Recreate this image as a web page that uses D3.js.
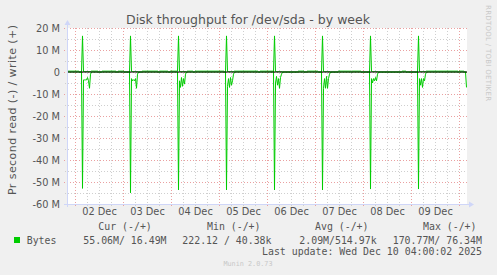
<!DOCTYPE html>
<html>
<head>
<meta charset="utf-8">
<script src="https://cdn.jsdelivr.net/npm/d3@7"></script>
<style>
  html, body { margin: 0; padding: 0; background: #F0F0F0; }
  svg { display: block; }
</style>
</head>
<body>
<div id="chart-area"></div>
<script>
// values in MB/s, read is drawn negative, write positive
var days = ["2025-12-02", "2025-12-03", "2025-12-04", "2025-12-05",
            "2025-12-06", "2025-12-07", "2025-12-08", "2025-12-09"];
var spikeClock = "03:30";
var readPeak  = [52.9, 54.9, 53.6, 53.6, 53.6, 53.6, 53.2, 53.2];
var writePeak = [16.4, 16.4, 16.4, 16.4, 16.4, 16.4, 16.4, 16.4];
// read samples after each spike, 30 min apart
var readTail = [
  [3.6, 3.6, 3.6, 3.6, 2.5, 4.0, 7.4, 1.0],
  [3.0, 4.0, 3.5, 4.0, 3.0, 7.4, 1.0],
  [4.0, 7.0, 2.5, 6.5, 3.0, 5.5, 1.0],
  [6.5, 3.0, 7.0, 2.5, 6.0, 4.0, 1.0],
  [5.0, 2.0, 6.0, 3.0, 7.4, 2.5, 1.0],
  [7.4, 3.0, 7.4, 2.0, 7.4, 3.0, 1.0],
  [3.0, 5.0, 3.0, 4.0, 2.5, 4.0, 1.0],
  [3.0, 6.0, 3.0, 7.0, 3.0, 4.0, 1.0]
];
// hours after the graph start where the small background write shows
var writeIdle = [[0, 5.5], [10.5, 15], [17.5, 24], [25.5, 28], [37.5, 45], [46.5, 50],
                 [51.5, 56.5], [60, 62.5], [64, 70], [70.5, 78], [83, 95], [96.5, 102.5],
                 [115.5, 118], [120, 125], [135.5, 141.5], [142.5, 146.5], [167.5, 169],
                 [176.5, 195], [196, 198]];
var writeIdleLevel = 0.4;
var lastRead = {time: "2025-12-10T03:30:00Z", value: 7.0};

var yTicks = [20, 10, 0, -10, -20, -30, -40, -50, -60];
var legendHead = ["Cur (-/+)", "Min (-/+)", "Avg (-/+)", "Max (-/+)"];
var legendVals = ["55.06M/ 16.49M", "222.12 / 40.38k", "2.09M/514.97k", "170.77M/ 76.34M"];

var width = 497, height = 275;
var plot = {left: 67, top: 28, right: 467, bottom: 204};
var start = new Date(Date.UTC(2025, 11, 1, 20, 0));
var end = new Date(Date.UTC(2025, 11, 10, 4, 0));
var step = 30 * 60 * 1000;

var x = d3.scaleUtc().domain([start, end]).range([plot.left, plot.right]);
var y = d3.scaleLinear().domain([-60, 20]).range([plot.bottom, plot.top]);

// build samples
var n = Math.round((new Date(lastRead.time) - start) / step) + 1;
var samples = [];
for (var i = 0; i < n; i++) {
  var h = i / 2;
  var w = 0;
  writeIdle.forEach(function(r) { if (h >= r[0] && h <= r[1]) w = writeIdleLevel; });
  samples.push({t: new Date(+start + i * step), read: 0, write: w});
}
days.forEach(function(d, k) {
  var s = Math.round((new Date(d + "T" + spikeClock + ":00Z") - start) / step);
  samples[s].read = -readPeak[k];
  samples[s].write = writePeak[k];
  readTail[k].forEach(function(v, j) { samples[s + 1 + j].read = -v; samples[s + 1 + j].write = 0.2; });
});
samples[n - 1].read = -lastRead.value;

var svg = d3.select("#chart-area").append("svg")
    .attr("width", width)
    .attr("height", height);

svg.append("rect").attr("width", width).attr("height", height).attr("fill", "#F0F0F0");
svg.append("rect")
    .attr("x", plot.left).attr("y", plot.top)
    .attr("width", plot.right - plot.left).attr("height", plot.bottom - plot.top)
    .attr("fill", "#FFFFFF");

// grid
var minorV = d3.utcHour.every(6).range(start, end).filter(function(d) { return d.getUTCHours() != 0; });
var majorV = d3.utcDay.range(start, end);
var minorH = [15, 5, -5, -15, -25, -35, -45, -55];

svg.append("g").selectAll("line").data(minorV).enter().append("line")
    .attr("x1", function(d) { return Math.round(x(d)) + 0.5; })
    .attr("x2", function(d) { return Math.round(x(d)) + 0.5; })
    .attr("y1", plot.top).attr("y2", plot.bottom + 2)
    .attr("stroke", "#cfcfcf").attr("stroke-dasharray", "1,2");
svg.append("g").selectAll("line").data(minorH).enter().append("line")
    .attr("x1", plot.left - 2).attr("x2", plot.right)
    .attr("y1", function(d) { return Math.round(y(d)) + 0.5; })
    .attr("y2", function(d) { return Math.round(y(d)) + 0.5; })
    .attr("stroke", "#cfcfcf").attr("stroke-dasharray", "1,2");
svg.append("g").selectAll("line").data(majorV).enter().append("line")
    .attr("x1", function(d) { return Math.round(x(d)) + 0.5; })
    .attr("x2", function(d) { return Math.round(x(d)) + 0.5; })
    .attr("y1", plot.top).attr("y2", plot.bottom + 3)
    .attr("stroke", "#eaa0a0").attr("stroke-dasharray", "1,2");
svg.append("g").selectAll("line").data(yTicks).enter().append("line")
    .attr("x1", plot.left - 3).attr("x2", plot.right)
    .attr("y1", function(d) { return Math.round(y(d)) + 0.5; })
    .attr("y2", function(d) { return Math.round(y(d)) + 0.5; })
    .attr("stroke", "#eaa0a0").attr("stroke-dasharray", "1,2");

// data lines
var line = function(key) {
  return d3.line()
    .x(function(d) { return x(d.t) + 0.5; })
    .y(function(d) { return y(d[key]); });
};
svg.append("path").datum(samples).attr("d", line("write"))
    .attr("fill", "none").attr("stroke", "#00CC00").attr("stroke-width", 1);
svg.append("path").datum(samples).attr("d", line("read"))
    .attr("fill", "none").attr("stroke", "#00CC00").attr("stroke-width", 1);

// zero line
svg.append("line")
    .attr("x1", plot.left).attr("x2", plot.right)
    .attr("y1", y(0)).attr("y2", y(0))
    .attr("stroke", "#000").attr("stroke-width", 1);

// axes lines with arrows
var axisCol = "#CFD6F8";
svg.append("line").attr("x1", plot.left + 0.5).attr("x2", plot.left + 0.5)
    .attr("y1", plot.bottom + 3).attr("y2", plot.top - 5).attr("stroke", axisCol);
svg.append("path").attr("d", "M" + (plot.left - 2.5) + "," + (plot.top - 3) + "L" + (plot.left + 3.5) + "," + (plot.top - 3) + "L" + (plot.left + 0.5) + "," + (plot.top - 8) + "Z")
    .attr("fill", axisCol);
svg.append("line").attr("x1", plot.left - 3).attr("x2", plot.right + 4)
    .attr("y1", plot.bottom + 0.5).attr("y2", plot.bottom + 0.5).attr("stroke", axisCol);
svg.append("path").attr("d", "M" + (plot.right + 2) + "," + (plot.bottom - 2.5) + "L" + (plot.right + 2) + "," + (plot.bottom + 3.5) + "L" + (plot.right + 7) + "," + (plot.bottom + 0.5) + "Z")
    .attr("fill", axisCol);

// tick labels
var fontCol = "#555";
var leftAxis = d3.axisLeft(y).tickValues(yTicks).tickSize(0).tickPadding(0)
    .tickFormat(function(d) { return d == 0 ? "0" : d + " M"; });
var gy = svg.append("g").attr("transform", "translate(" + (plot.left - 7) + ",0)").call(leftAxis);
gy.select(".domain").remove();
gy.selectAll("text").attr("fill", fontCol).attr("font-family", "DejaVu Sans").attr("font-size", "9.8px");

var noons = days.map(function(d) { return new Date(d + "T12:00:00Z"); });
var bottomAxis = d3.axisBottom(x).tickValues(noons).tickSize(0).tickPadding(0)
    .tickFormat(d3.utcFormat("%d %b"));
var gx = svg.append("g").attr("transform", "translate(0," + (plot.bottom + 4) + ")").call(bottomAxis);
gx.select(".domain").remove();
gx.selectAll("text").attr("fill", fontCol).attr("font-family", "DejaVu Sans").attr("font-size", "9.8px");

// title
svg.append("text")
    .attr("x", 248).attr("y", 24)
    .attr("text-anchor", "middle")
    .attr("font-family", "DejaVu Sans").attr("font-size", "12.5px")
    .attr("fill", fontCol)
    .text("Disk throughput for /dev/sda - by week");

// y label
svg.append("text")
    .attr("transform", "translate(15.5,110) rotate(-90)")
    .attr("text-anchor", "middle")
    .attr("font-family", "DejaVu Sans").attr("font-size", "11px")
    .attr("fill", fontCol)
    .attr("textLength", 170).attr("lengthAdjust", "spacing")
    .text("Pr second read (-) / write (+)");

// watermark
svg.append("text")
    .attr("transform", "translate(486,5) rotate(90)")
    .attr("font-family", "DejaVu Sans").attr("font-size", "7px")
    .attr("fill", "#c8c8c8")
    .attr("textLength", 96).attr("lengthAdjust", "spacing")
    .text("RRDTOOL / TOBI OETIKER");

// legend
var mono = "DejaVu Sans Mono";
var headX = [98.3, 207, 315, 423];
var valX = [83.3, 182.3, 299.3, 392.7];
legendHead.forEach(function(t, i) {
  svg.append("text").attr("x", headX[i]).attr("y", 229.5)
    .attr("font-family", mono).attr("font-size", "9.9px").attr("fill", fontCol)
    .attr("xml:space", "preserve").style("white-space", "pre").text(t);
});
svg.append("rect").attr("x", 14).attr("y", 237).attr("width", 6).attr("height", 6).attr("fill", "#00CC00");
svg.append("text").attr("x", 26.7).attr("y", 243.5)
    .attr("font-family", mono).attr("font-size", "9.9px").attr("fill", fontCol).text("Bytes");
legendVals.forEach(function(t, i) {
  svg.append("text").attr("x", valX[i]).attr("y", 243.5)
    .attr("font-family", mono).attr("font-size", "9.9px").attr("fill", fontCol)
    .style("white-space", "pre").text(t);
});
svg.append("text").attr("x", 482).attr("y", 254.5)
    .attr("text-anchor", "end")
    .attr("font-family", mono).attr("font-size", "9.9px").attr("fill", fontCol)
    .text("Last update: Wed Dec 10 04:00:02 2025");
svg.append("text").attr("x", 248).attr("y", 266)
    .attr("text-anchor", "middle")
    .attr("font-family", mono).attr("font-size", "6.8px").attr("fill", "#c8c8c8")
    .text("Munin 2.0.73");
</script>
</body>
</html>
